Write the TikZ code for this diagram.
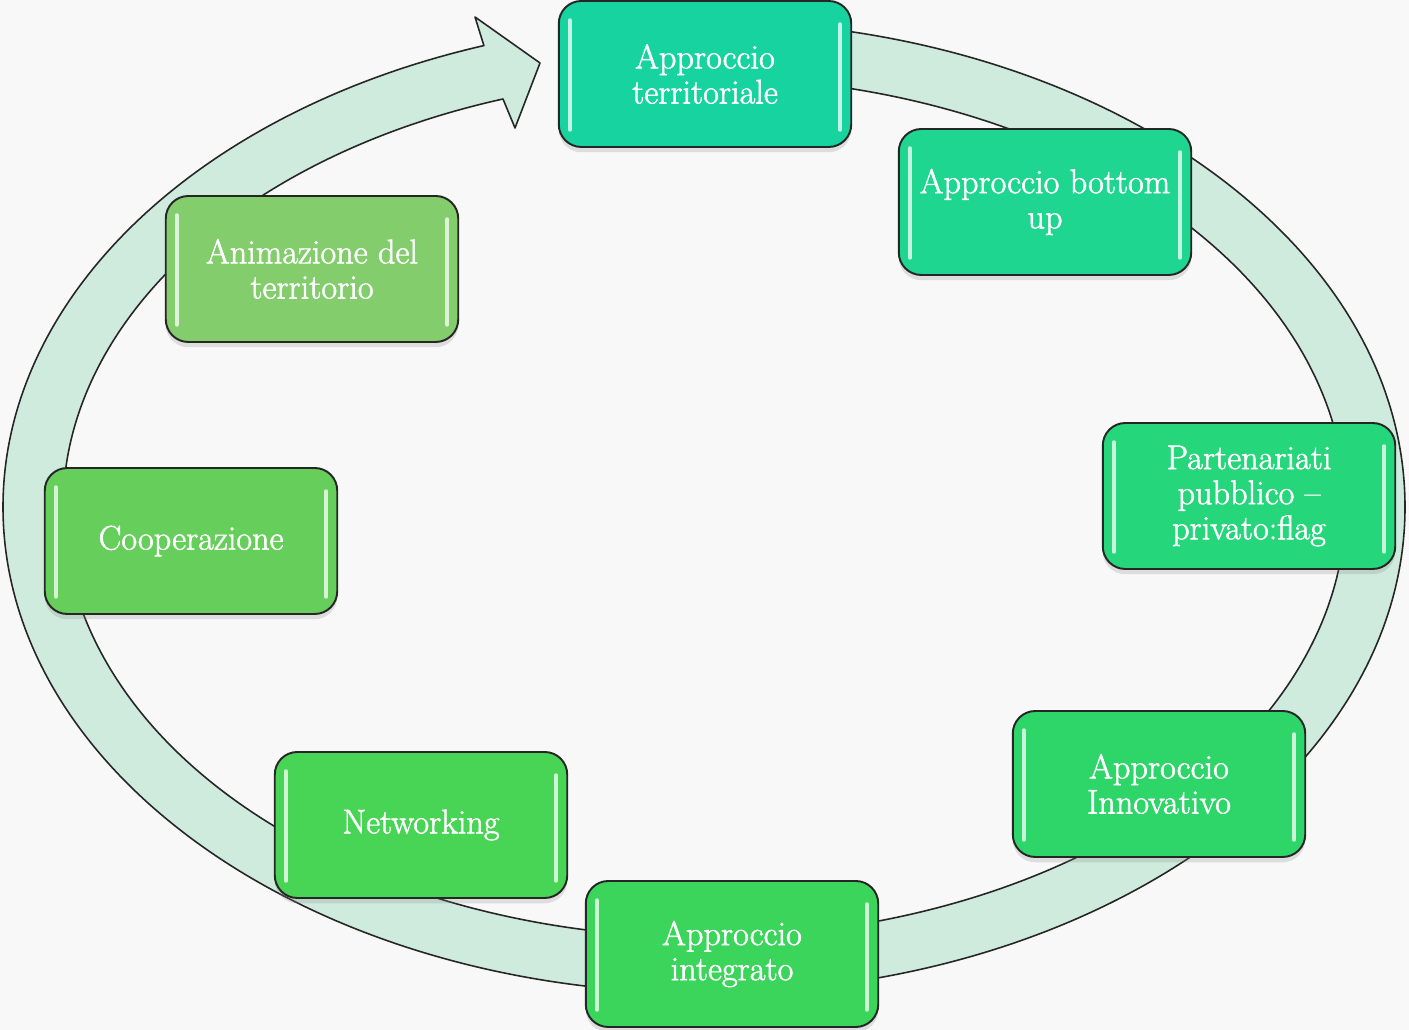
\documentclass[tikz,border=0pt]{standalone}
\usepackage{fontspec}
\usetikzlibrary{shadows,calc}

\newfontfamily\stagefont{Latin Modern Roman}[Ligatures=TeX, FakeBold=1.6]

\definecolor{bgcol}{HTML}{F8F8F8}
\definecolor{bandfill}{HTML}{CFEBDD}
\definecolor{cterr}{HTML}{17D3A0}
\definecolor{cbott}{HTML}{1ED690}
\definecolor{cpart}{HTML}{25D67A}
\definecolor{cinno}{HTML}{2ED568}
\definecolor{cinte}{HTML}{3AD55A}
\definecolor{cnetw}{HTML}{48D454}
\definecolor{ccoop}{HTML}{66CE5B}
\definecolor{canim}{HTML}{83CD6D}

\tikzset{
  stage/.style={draw=black!85, line width=1.1pt, rounded corners=0.45cm,
    minimum width=5.85cm, minimum height=2.92cm, align=center, text=white,
    font=\stagefont\fontsize{19.5}{20}\selectfont,
    drop shadow={opacity=0.22, shadow xshift=0pt, shadow yshift=-3pt}},
  band/.style={fill=bandfill, draw=black!85, line width=0.9pt, line join=round},
  gloss/.style={white, opacity=0.75, line width=2pt, line cap=round}
}

\begin{document}
\begin{tikzpicture}[x=0.02cm, y=0.02cm]
        % 1 unit = 1 px of the page
        \fill[bgcol] (0,0) rectangle (1409,1030);
        \useasboundingbox (0,0) rectangle (1409,1030);
        \pgfmathsetmacro{\outa}{701} % outer radii
        \pgfmathsetmacro{\outb}{486}
        \pgfmathsetmacro{\ina}{641} % inner radii
        \pgfmathsetmacro{\inb}{430}
        \pgfmathsetmacro{\endang}{-251.7} % where the band meets the head
        \coordinate (ctr) at (704,523);
        \coordinate (bandstart) at (704,1009);
        \coordinate (headtop) at (475,1013);
        \coordinate (tip) at (540,967);
        \coordinate (headbot) at (515,902);
        \coordinate (innerend) at (503,931);
        \draw[band] (bandstart) arc[start angle=90, end angle=\endang, x radius=\outa, y radius=\outb]
            -- (headtop) -- (tip) -- (headbot)
            -- (innerend) arc[start angle=\endang, end angle=90, x radius=\ina, y radius=\inb] -- cycle;
        \node[stage, fill=cterr] (terr) at (705,956) {Approccio\\territoriale};
        \node[stage, fill=cbott] (bott) at (1045,828) {Approccio bottom\\up};
        \node[stage, fill=cpart] (part) at (1249,534) {Partenariati\\pubblico –\\privato:flag};
        \node[stage, fill=cinno] (inno) at (1159,246) {Approccio\\Innovativo};
        \node[stage, fill=cinte] (inte) at (732,76) {Approccio\\integrato};
        \node[stage, fill=cnetw] (netw) at (421,205) {Networking};
        \node[stage, fill=ccoop] (coop) at (191,489) {Cooperazione};
        \node[stage, fill=canim] (anim) at (312,761) {Animazione del\\territorio};
        \foreach \n in {terr,bott,part,inno,inte,netw,coop,anim}{
            \draw[gloss] ($(\n.north west)+(12,-20)$) -- ($(\n.south west)+(12,18)$);
            \draw[gloss] ($(\n.north east)+(-12,-24)$) -- ($(\n.south east)+(-12,18)$);
        }
    \end{tikzpicture}
\end{document}
